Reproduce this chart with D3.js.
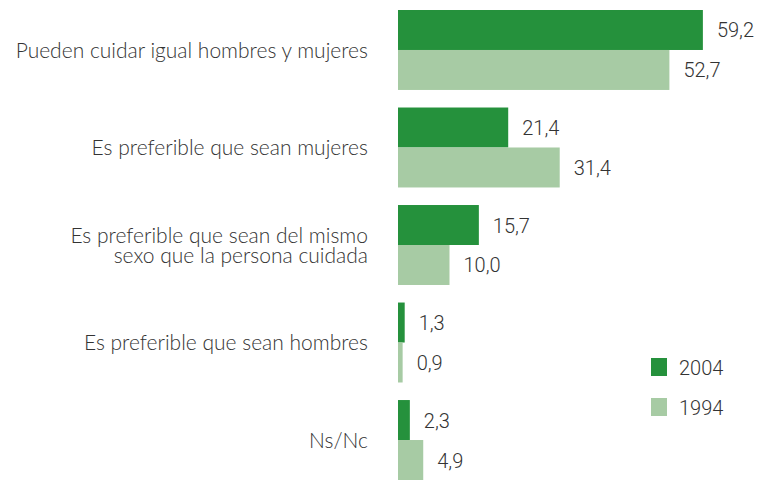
<!DOCTYPE html>
<html>
<script src="https://d3js.org/d3.v7.min.js"></script>
<style>
  body {margin:0; background:#fff;}
  text {fill:#333;}
  .cat {font-family:Lato, sans-serif; font-size:21px; font-weight:300;}
  .val, .leg {font-family:Roboto, sans-serif; font-size:20px; font-weight:300;}
</style>
<body>
<svg width=757 height=480></svg>
<script>
    // categories (multi-line labels split on "|")
    const categories = [
        "Pueden cuidar igual hombres y mujeres",
        "Es preferible que sean mujeres",
        "Es preferible que sean del mismo|sexo que la persona cuidada",
        "Es preferible que sean hombres",
        "Ns/Nc"
    ];
    const series = ["2004", "1994"];
    const values2004 = [59.2, 21.4, 15.7, 1.3, 2.3];
    const values1994 = [52.7, 31.4, 10.0, 0.9, 4.9];
    const colors = ["#25913c", "#a7cba4"];

    const svg = d3.select("svg");

    const x = d3.scaleLinear()
            .domain([0, 60])
            .range([398, 707]);

    const y = d3.scaleBand()
            .domain(categories)
            .range([10, 480])
            .paddingInner(0.18)
            .paddingOuter(0);

    const ySub = d3.scaleBand()
            .domain(series)
            .range([0, y.bandwidth()]);

    const color = d3.scaleOrdinal().domain(series).range(colors);

    const rows = categories.map((c, i) => ({
        cat: c,
        vals: [{s: "2004", v: values2004[i]}, {s: "1994", v: values1994[i]}]
    }));

    const g = svg.selectAll("g.row")
            .data(rows)
            .enter().append("g")
            .attr("class", "row")
            .attr("transform", d => `translate(0,${y(d.cat)})`);

    g.selectAll("rect")
            .data(d => d.vals)
            .enter().append("rect")
            .attr("x", x(0))
            .attr("y", d => ySub(d.s))
            .attr("width", d => x(d.v) - x(0))
            .attr("height", ySub.bandwidth())
            .attr("fill", d => color(d.s));

    g.selectAll("text.val")
            .data(d => d.vals)
            .enter().append("text")
            .attr("class", "val")
            .attr("x", d => x(d.v) + 14)
            .attr("y", d => ySub(d.s) + ySub.bandwidth() / 2 + 7.5)
            .text(d => d.v.toFixed(1).replace(".", ","));

    // category labels
    const lab = g.append("text")
            .attr("class", "cat")
            .attr("text-anchor", "end");
    lab.each(function(d) {
        const lines = d.cat.split("|");
        const n = lines.length;
        d3.select(this).selectAll("tspan")
            .data(lines)
            .enter().append("tspan")
            .attr("x", 368)
            .attr("y", (l, i) => y.bandwidth() / 2 + 8 + (i - (n - 1) / 2) * 20)
            .text(l => l);
    });

    // legend
    const ly = d3.scaleBand().domain(series).range([358, 438]);
    const leg = svg.selectAll("g.leg")
            .data(series)
            .enter().append("g")
            .attr("class", "leg");
    leg.append("rect")
            .attr("x", 651)
            .attr("y", d => ly(d))
            .attr("width", 16)
            .attr("height", 18)
            .attr("fill", d => color(d));
    leg.append("text")
            .attr("class", "leg")
            .attr("x", 679)
            .attr("y", d => ly(d) + 17)
            .text(d => d);
</script>
</body>
</html>
